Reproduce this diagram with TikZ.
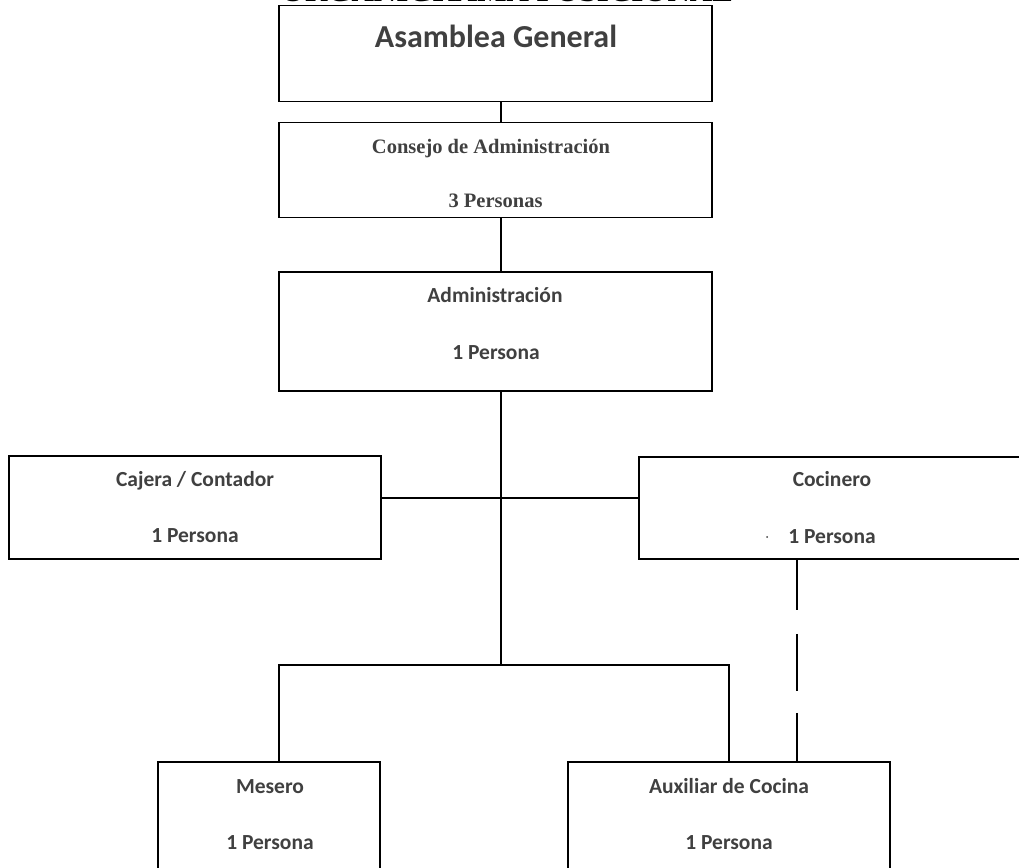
\documentclass[tikz,border=0pt]{standalone}
\usepackage{fontspec}
\setmainfont{Carlito}
\newfontfamily\serifbold{Liberation Serif}
\usetikzlibrary{calc}
\definecolor{inkgray}{HTML}{404040}
\tikzset{
  box/.style={draw=black, line width=1.6pt, fill=white, rectangle, inner sep=0pt},
  link/.style={draw=black, line width=1.6pt},
  lbl/.style={anchor=base, inner sep=0pt, text=inkgray, font=\fontsize{21.5}{25}\selectfont\bfseries},
  serlbl/.style={anchor=base, inner sep=0pt, text=inkgray, font=\fontsize{20.5}{24}\selectfont\serifbold\bfseries}
}
\begin{document}
\begin{tikzpicture}[x=1pt,y=-1pt]
\useasboundingbox (0,0) rectangle (1019,867);
\clip (0,0) rectangle (1019,867);

% heading, partly above the page edge
\node[anchor=base, inner sep=0pt, font=\fontsize{31}{36}\selectfont\serifbold\bfseries] (title) at (507,1.5) {ORGANIGRAMA POSICIONAL};

% boxes
\node[box, minimum width=433pt, minimum height=96pt] (asam) at (495.5,53.5) {};
\node[box, minimum width=433pt, minimum height=95pt] (consejo) at (495.5,170) {};
\node[box, minimum width=433pt, minimum height=119pt] (admin) at (495.5,331.5) {};
\node[box, minimum width=372pt, minimum height=103pt] (cajera) at (195,507.5) {};
\node[box, minimum width=390pt, minimum height=102pt] (cocinero) at (834,508) {};
\node[box, minimum width=222pt, minimum height=130pt] (mesero) at (269,827) {};
\node[box, minimum width=322pt, minimum height=130pt] (auxiliar) at (729,827) {};

% texts
\node[lbl, font=\fontsize{32}{37}\selectfont\bfseries] (tAsam) at (496,48) {Asamblea General};
\node[serlbl] (tCons1) at (491,153) {Consejo de Administración};
\node[serlbl] (tCons2) at (495.5,207) {3 Personas};
\node[lbl] (tAdm1) at (495,302) {Administración};
\node[lbl] (tAdm2) at (496,359) {1 Persona};
\node[lbl] (tCaj1) at (195,486) {Cajera / Contador};
\node[lbl] (tCaj2) at (195,542) {1 Persona};
\node[lbl] (tCoc1) at (832,486) {Cocinero};
\node[lbl] (tCoc2) at (832,543) {1 Persona};
\fill[inkgray] (767,537) circle (1pt);
\node[lbl] (tMes1) at (270,793) {Mesero};
\node[lbl] (tMes2) at (270,849) {1 Persona};
\node[lbl] (tAux1) at (729,793) {Auxiliar de Cocina};
\node[lbl] (tAux2) at (729,849) {1 Persona};

% connectors
\coordinate (spine) at (501,0);
\coordinate (midrow) at (0,498);
\coordinate (lowrow) at (0,665);
\coordinate (mesX) at (279,0);
\coordinate (auxX) at (729,0);
\coordinate (cocX) at (797,0);

\draw[link] (asam.south -| spine) -- (consejo.north -| spine);
\draw[link] (consejo.south -| spine) -- (admin.north -| spine);
\draw[link] (admin.south -| spine) -- (lowrow -| spine);
\draw[link] (cajera.east |- midrow) -- (cocinero.west |- midrow);
\draw[link] (mesero.north -| mesX) -- (lowrow -| mesX) -- (lowrow -| auxX) -- (auxiliar.north -| auxX);
\draw[link, dash pattern=on 50pt off 24pt on 57pt off 22pt] (cocinero.south -| cocX) -- (auxiliar.north -| cocX);
\end{tikzpicture}
\end{document}
